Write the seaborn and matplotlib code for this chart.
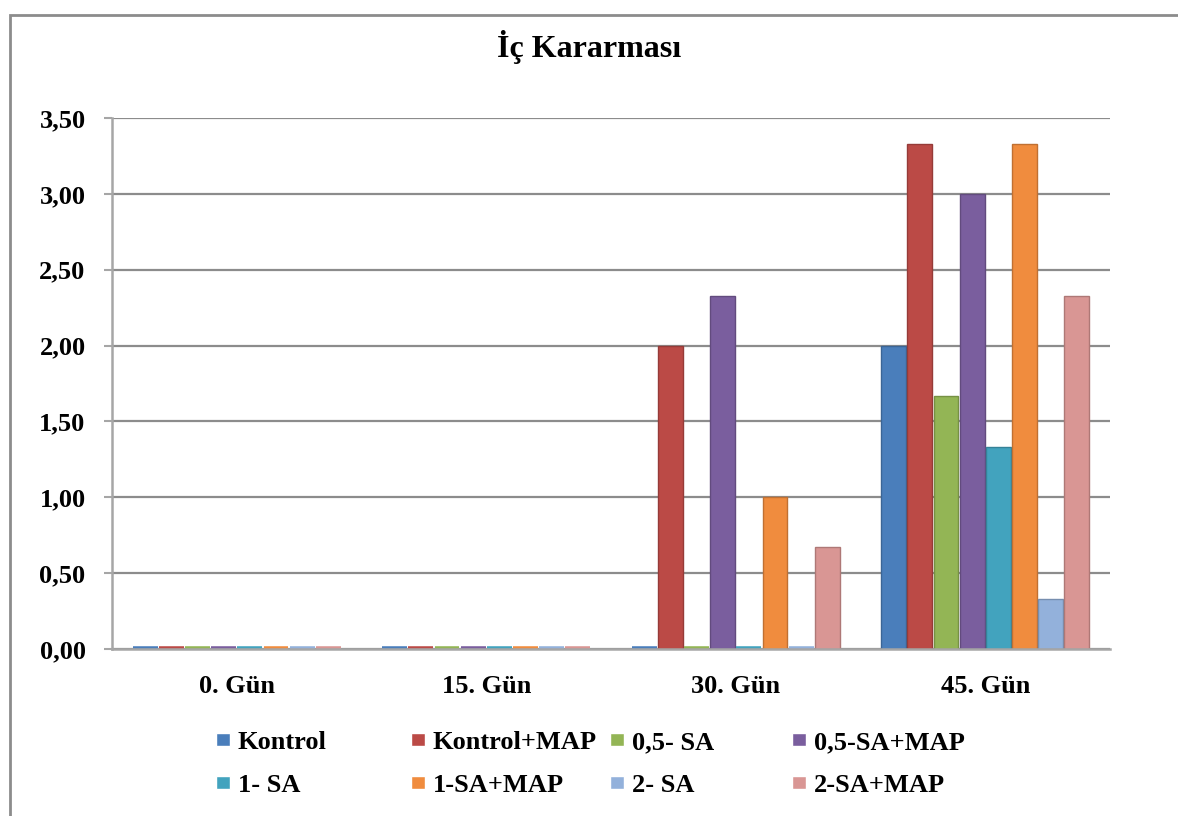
import numpy as np
import pandas as pd
import matplotlib
matplotlib.use("Agg")
import matplotlib.pyplot as plt
import seaborn as sns
from matplotlib.patches import Rectangle, Patch
import matplotlib.colors as mcolors

# ---------------- data ----------------
days = ["0. Gün", "15. Gün", "30. Gün", "45. Gün"]
groups = ["Kontrol", "Kontrol+MAP", "0,5- SA", "0,5-SA+MAP",
          "1- SA", "1-SA+MAP", "2- SA", "2-SA+MAP"]
kontrol = [0.00, 0.00, 0.00, 2.00]
kontrol_map = [0.00, 0.00, 2.00, 3.33]
sa05 = [0.00, 0.00, 0.00, 1.67]
sa05_map = [0.00, 0.00, 2.33, 3.00]
sa1 = [0.00, 0.00, 0.00, 1.33]
sa1_map = [0.00, 0.00, 1.00, 3.33]
sa2 = [0.00, 0.00, 0.00, 0.33]
sa2_map = [0.00, 0.00, 0.67, 2.33]
yticks = [0.0, 0.5, 1.0, 1.5, 2.0, 2.5, 3.0, 3.5]
ytick_labels = ["0,00", "0,50", "1,00", "1,50", "2,00", "2,50", "3,00", "3,50"]
title = "İç Kararması"

colors = ["#4A7EBB", "#BB4A46", "#93B555", "#7A5E9E",
          "#42A3BE", "#F08C3E", "#93B1DB", "#D99694"]

series = [kontrol, kontrol_map, sa05, sa05_map, sa1, sa1_map, sa2, sa2_map]
rows = []
for g, vals in zip(groups, series):
    for d, v in zip(days, vals):
        rows.append({"day": d, "group": g, "value": v})
df = pd.DataFrame(rows)

# ---------------- style ----------------
sns.set_theme(style="white")
plt.rcParams["font.family"] = ["Liberation Serif", "DejaVu Serif"]
plt.rcParams["font.weight"] = "bold"
plt.rcParams["text.color"] = "black"

W, H = 1178, 816
fig = plt.figure(figsize=(W / 100, H / 100), dpi=100)
fig.patch.set_facecolor("white")

ax_left, ax_right = 112, 1110
ax_bottom, ax_top = 649, 118
ax = fig.add_axes([ax_left / W, (H - ax_bottom) / H,
                   (ax_right - ax_left) / W, (ax_bottom - ax_top) / H])

sns.barplot(data=df, x="day", y="value", hue="group", order=days,
            hue_order=groups, palette=colors, width=0.84, gap=0.05,
            saturation=1, errorbar=None, legend=False, ax=ax)

# edges / zero-height bars drawn as flat discs
for cont, col in zip(ax.containers, colors):
    dark = tuple(np.array(mcolors.to_rgb(col)) * 0.8)
    for bar in cont:
        if bar.get_height() == 0:
            bar.set_edgecolor(col)
            bar.set_linewidth(4)
            bar.set_joinstyle("round")
        else:
            bar.set_edgecolor(dark)
            bar.set_linewidth(1.0)

ax.set_ylim(0, 3.5)
ax.set_xlim(-0.5, 3.5)
ax.set_yticks(yticks)
ax.set_yticklabels(ytick_labels)
ax.set_xlabel("")
ax.set_ylabel("")
ax.yaxis.grid(True, color="#8C8C8C", linewidth=1.6)
ax.xaxis.grid(False)
ax.set_axisbelow(True)

for s in ["top", "right"]:
    ax.spines[s].set_visible(False)
for s in ["left", "bottom"]:
    ax.spines[s].set_color("#A6A6A6")
    ax.spines[s].set_linewidth(1.8)

ax.set_xticks([-0.5, 0.5, 1.5, 2.5, 3.5], minor=True)
ax.tick_params(axis="x", which="minor", length=5, width=1.5, color="#A6A6A6")
ax.tick_params(axis="x", which="major", length=0, pad=19, labelsize=19)
ax.tick_params(axis="y", length=6, width=1.5, color="#A6A6A6", pad=13,
               labelsize=19, left=True)
for lab in ax.get_xticklabels() + ax.get_yticklabels():
    lab.set_fontweight("bold")
    lab.set_color("black")

# title
fig.text(0.5, 1 - 47 / H, title, ha="center", va="center",
         fontsize=23, fontweight="bold", color="black")

# outer chart frame
fig.add_artist(Rectangle((10 / W, -0.05), 1.2, (1 - 15 / H) + 0.05,
                         transform=fig.transFigure, fill=False,
                         edgecolor="#8C8C8C", linewidth=2))

# legend: 2 rows x 4 equal-width columns
col_x = [216, 411, 610, 792]
for c in range(4):
    handles = [Patch(facecolor=colors[c]), Patch(facecolor=colors[c + 4])]
    labels = [groups[c], groups[c + 4]]
    fig.legend(handles, labels, loc="upper left",
               bbox_to_anchor=(col_x[c] / W, 1 - 731 / H),
               frameon=False, borderpad=0, borderaxespad=0,
               handlelength=0.52, handleheight=0.42, handletextpad=0.3,
               labelspacing=0.75, labelcolor="black",
               prop={"size": 19, "weight": "bold"})

fig.savefig("out.png", dpi=100, facecolor="white")
